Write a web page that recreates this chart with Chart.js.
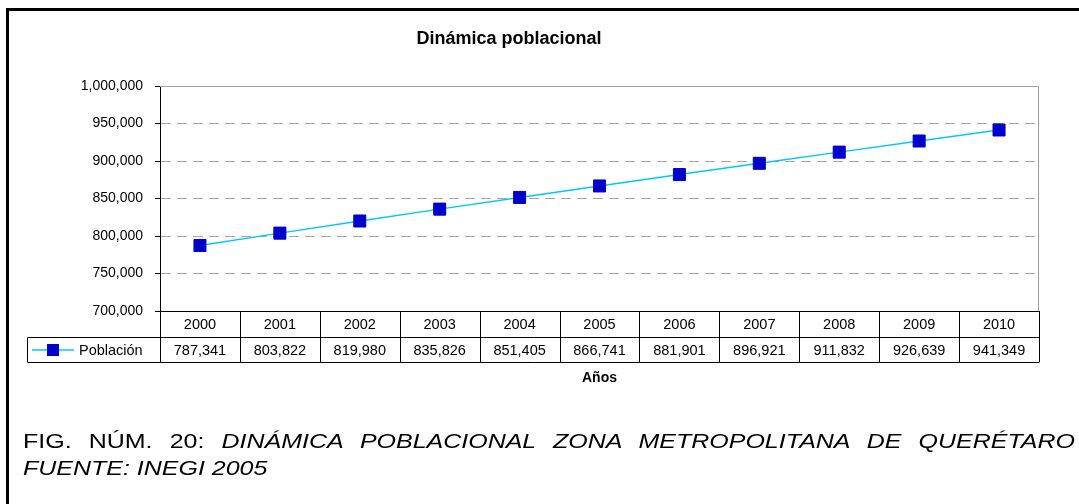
<!DOCTYPE html>
<html>
<head>
<meta charset="utf-8">
<script src="https://cdn.jsdelivr.net/npm/chart.js@4.4.1/dist/chart.umd.min.js"></script>
<style>
  html, body { margin:0; padding:0; background:#fff; }
  body { width:1079px; height:504px; position:relative; overflow:hidden; }
  #frame { position:absolute; left:6px; top:8px; width:1100px; height:520px;
           border-left:3px solid #000; border-top:3px solid #000; }
  #wrap { position:absolute; left:0; top:0; width:1079px; height:504px; }
  .cap { position:absolute; left:23px; font-family:"Liberation Sans", Arial, sans-serif;
         font-size:21px; line-height:27px; color:#000; white-space:nowrap;
         transform:scaleX(1.19); transform-origin:0 0; }
  #cap1 { top:427px; width:884px; white-space:normal; text-align:justify; text-align-last:justify; }
  #cap2 { top:454px; }
</style>
</head>
<body>
<div id="frame"></div>
<div id="wrap"><canvas id="c" width="1079" height="504"></canvas></div>
<div class="cap" id="cap1">FIG. NÚM. 20: <i>DINÁMICA POBLACIONAL ZONA METROPOLITANA DE QUERÉTARO</i></div>
<div class="cap" id="cap2"><i>FUENTE: INEGI 2005</i></div>
<script>
const chartTitle = 'Dinámica poblacional';
const axisTitle = 'Años';
const seriesName = 'Población';
const years = ['2000','2001','2002','2003','2004','2005','2006','2007','2008','2009','2010'];
const poblacion = [787341, 803822, 819980, 835826, 851405, 866741, 881901, 896921, 911832, 926639, 941349];
const yMin = 700000, yMax = 1000000, yStep = 50000;

const FONT = '"Liberation Sans", Arial, sans-serif';
Chart.defaults.font.family = FONT;
Chart.defaults.color = '#000';

const fmt = v => Number(v).toLocaleString('en-US');

const tablePlugin = {
  id: 'tablePlugin',
  beforeDatasetsDraw(chart) {
    const {ctx, chartArea: a} = chart;
    ctx.save();
    ctx.strokeStyle = '#a0a0a0';
    ctx.lineWidth = 1;
    ctx.beginPath();
    ctx.moveTo(a.left, a.top + 0.5);
    ctx.lineTo(a.right - 0.5, a.top + 0.5);
    ctx.lineTo(a.right - 0.5, a.bottom);
    ctx.stroke();
    ctx.restore();
  },
  afterDraw(chart) {
    const {ctx, chartArea: a} = chart;
    const xs = chart.scales.x;
    const w = xs.getPixelForValue(1) - xs.getPixelForValue(0);
    const r0 = a.bottom, r1 = a.bottom + 26, r2 = a.bottom + 51;
    const legLeft = 27.5;
    ctx.save();
    // title
    ctx.fillStyle = '#000';
    ctx.font = 'bold 18px ' + FONT;
    ctx.textAlign = 'center';
    ctx.textBaseline = 'alphabetic';
    ctx.fillText(chartTitle, 509, 44);
    // table lines
    ctx.strokeStyle = '#000';
    ctx.lineWidth = 1;
    ctx.beginPath();
    ctx.moveTo(legLeft, r1 + 0.5); ctx.lineTo(a.right, r1 + 0.5);
    ctx.moveTo(legLeft, r2 + 0.5); ctx.lineTo(a.right, r2 + 0.5);
    ctx.moveTo(legLeft, r1 + 0.5); ctx.lineTo(legLeft, r2 + 0.5);
    for (let i = 0; i <= years.length; i++) {
      const x = Math.round(xs.getPixelForValue(0) - w / 2 + i * w) + 0.5;
      ctx.moveTo(x, r0); ctx.lineTo(x, r2 + 0.5);
    }
    ctx.stroke();
    // text
    ctx.font = '14.5px ' + FONT;
    ctx.textBaseline = 'middle';
    ctx.textAlign = 'center';
    years.forEach((y, i) => {
      const x = xs.getPixelForValue(i);
      ctx.fillText(y, x, (r0 + r1) / 2 + 1);
      ctx.fillText(fmt(poblacion[i]), x, (r1 + r2) / 2 + 1);
    });
    // legend key
    const ds = chart.data.datasets[0];
    const ly = (r1 + r2) / 2 + 0.5;
    ctx.strokeStyle = ds.borderColor;
    ctx.lineWidth = 1.5;
    ctx.beginPath(); ctx.moveTo(32, ly); ctx.lineTo(74, ly); ctx.stroke();
    ctx.fillStyle = ds.pointBackgroundColor;
    ctx.fillRect(47, ly - 6, 12, 12);
    ctx.fillStyle = '#000';
    ctx.textAlign = 'left';
    ctx.fillText(seriesName, 79, ly + 0.5);
    // axis title
    ctx.font = 'bold 14px ' + FONT;
    ctx.textAlign = 'center';
    ctx.fillText(axisTitle, (a.left + a.right) / 2, 378);
    ctx.restore();
  }
};

new Chart(document.getElementById('c'), {
  type: 'line',
  data: {
    labels: years,
    datasets: [{
      label: seriesName,
      data: poblacion,
      borderColor: '#00C8FF',
      borderWidth: 1.5,
      pointStyle: 'rect',
      pointRadius: 8.5,
      pointHoverRadius: 8.5,
      pointBackgroundColor: '#0000CC',
      pointBorderColor: '#0000CC',
      pointBorderWidth: 1,
      tension: 0,
      fill: false
    }]
  },
  options: {
    responsive: false,
    animation: false,
    events: [],
    layout: { padding: { left: 0, top: 86, right: 40, bottom: 0 } },
    plugins: { legend: { display: false }, title: { display: false }, tooltip: { enabled: false } },
    scales: {
      x: {
        type: 'category',
        offset: true,
        grid: { display: false },
        border: { display: true, color: '#000', width: 1 },
        ticks: { display: false },
        afterFit: s => { s.height = 504 - 311; }
      },
      y: {
        min: yMin, max: yMax,
        grid: { color: '#a6a6a6', lineWidth: 1, tickLength: 5, tickColor: '#000', drawOnChartArea: true },
        border: { display: true, color: '#000', width: 1, dash: [10, 6] },
        ticks: { stepSize: yStep, padding: 12, color: '#000', font: { size: 14 }, callback: v => fmt(v) },
        afterFit: s => { s.width = 160; }
      }
    }
  },
  plugins: [tablePlugin]
});
</script>
</body>
</html>
